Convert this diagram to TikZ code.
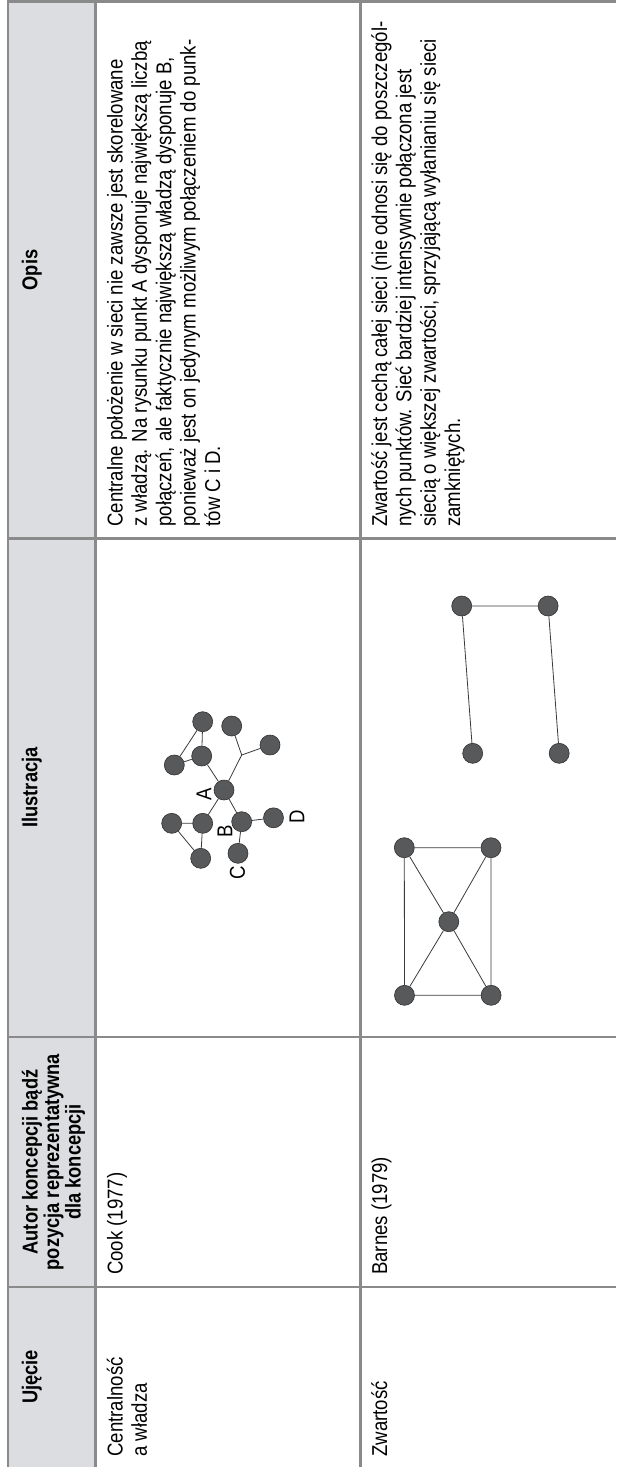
\documentclass[tikz,border=0pt]{standalone}
\usepackage{fontspec}
\newfontfamily\bodyfont{Liberation Sans}[FakeStretch=0.865]
\newfontfamily\headfont{Liberation Sans}[FakeStretch=0.85]
\definecolor{rule}{HTML}{8A8A8A}
\definecolor{headfill}{HTML}{DCDDE0}
\definecolor{dotfill}{HTML}{58595B}
\definecolor{dotline}{HTML}{303030}
\definecolor{edgecol}{HTML}{3A3A3A}
\begin{document}
\begin{tikzpicture}[x=1pt,y=-1pt,
  cell/.style={rotate=90,anchor=base west,inner sep=0pt,font=\bodyfont\fontsize{21.5}{24.4}\selectfont},
  head/.style={rotate=90,anchor=base,inner sep=0pt,font=\headfont\bfseries\fontsize{21.5}{21.5}\selectfont},
  lbl/.style={rotate=90,inner sep=0pt,font=\bodyfont\fontsize{21.5}{24.4}\selectfont},
  dot/.style={circle,minimum size=20pt,inner sep=0pt,fill=dotfill,draw=dotline,line width=0.6pt},
  link/.style={draw=edgecol,line width=0.8pt},
  grid/.style={draw=rule,line width=2.4pt}]
\useasboundingbox (0,0) rectangle (616,1467);

% header band and table rules
\fill[headfill] (8,2) rectangle (95.5,1467);
\draw[grid] (8,1467) -- (8,1.5) -- (616,1.5);
\draw[grid] (95.5,2) -- (95.5,1467);
\draw[grid] (360.3,2) -- (360.3,1467);
\foreach \y in {538.3,1037,1287} \draw[grid] (8,\y) -- (616,\y);

% column headings
\node[head] (hUj) at (37.3,1377) {Ujęcie};
\node[head] (hAu1) at (37.5,1162) {Autor koncepcji bądź};
\node[head] (hAu2) at (59,1162) {pozycja reprezentatywna};
\node[head] (hAu3) at (80.5,1162) {dla koncepcji};
\node[head] (hIl) at (37.3,787.5) {Ilustracja};
\node[head] (hOp) at (37.3,270) {Opis};

% first row
\node[cell] (u1a) at (122.5,1456.7) {Centralność};
\node[cell] (u1b) at (146.9,1456.7) {a władza};
\node[cell] (a1) at (122.5,1275) {Cook (1977)};
\node[cell] (o1a) at (122.5,526.7) {Centralne położenie w sieci nie zawsze jest skorelowane};
\node[cell] (o1b) at (146.9,526.7) {z władzą. Na rysunku punkt A dysponuje największą liczbą};
\node[cell] (o1c) at (171.3,526.7) {połączeń, ale faktycznie największą władzą dysponuje B,};
\node[cell] (o1d) at (195.7,526.7) {ponieważ jest on jedynym możliwym połączeniem do punk-};
\node[cell] (o1e) at (220.1,526.7) {tów C i D.};

% second row
\node[cell] (u2) at (387,1456.7) {Zwartość};
\node[cell] (a2) at (387,1275) {Barnes (1979)};
\node[cell] (o2a) at (387,527) {Zwartość jest cechą całej sieci (nie odnosi się do poszczegól-};
\node[cell] (o2b) at (411.4,527) {nych punktów. Sieć bardziej intensywnie połączona jest};
\node[cell] (o2c) at (435.8,527) {siecią o większej zwartości, sprzyjającą wyłanianiu się sieci};
\node[cell] (o2d) at (460.2,527) {zamkniętych.};

% centrality network
\node[dot] (A) at (224,790) {};
\node[dot] (t1) at (202.7,721.7) {};
\node[dot] (t2) at (201.7,756) {};
\node[dot] (t3) at (174.3,765) {};
\node[dot] (r1) at (231.7,726) {};
\node[dot] (r2) at (270,745) {};
\coordinate (J) at (241.7,755);
\node[dot] (b1) at (171.7,823.3) {};
\node[dot] (b2) at (202.7,823.3) {};
\node[dot] (b3) at (200.7,858.3) {};
\node[dot] (B) at (241.7,821.7) {};
\node[dot] (D) at (273.5,817.8) {};
\node[dot] (C) at (238,853.3) {};
\draw[link] (A) -- (t2) (t2) -- (t1) (t2) -- (t3) (t1) -- (t3);
\draw[link] (A) -- (J) (J) -- (r1) (J) -- (r2);
\draw[link] (A) -- (b2) (b2) -- (b1) (b2) -- (b3) (b1) -- (b3);
\draw[link] (A) -- (B) (B) -- (D) (B) -- (C);
\node[lbl] (lA) at (204,794) {A};
\node[lbl] (lB) at (225,831.7) {B};
\node[lbl] (lC) at (237.5,873) {C};
\node[lbl] (lD) at (297,816.7) {D};

% two open chains
\node[dot] (n1) at (461.7,606) {};
\node[dot] (n2) at (548.1,606) {};
\node[dot] (n3) at (472.7,753.3) {};
\node[dot] (n4) at (559.2,753.3) {};
\draw[link] (n1) -- (n2) (n1) -- (n3) (n2) -- (n4);

% dense network
\node[dot] (q1) at (404.3,847.7) {};
\node[dot] (q2) at (491,847.7) {};
\node[dot] (qc) at (448.8,921.7) {};
\node[dot] (q3) at (404.5,995.3) {};
\node[dot] (q4) at (491.1,995.3) {};
\draw[link] (q1) -- (q2) (q3) -- (q4) (q1) -- (q3) (q2) -- (q4);
\draw[link] (q1) -- (qc) (q2) -- (qc) (qc) -- (q3) (qc) -- (q4);
\end{tikzpicture}
\end{document}
